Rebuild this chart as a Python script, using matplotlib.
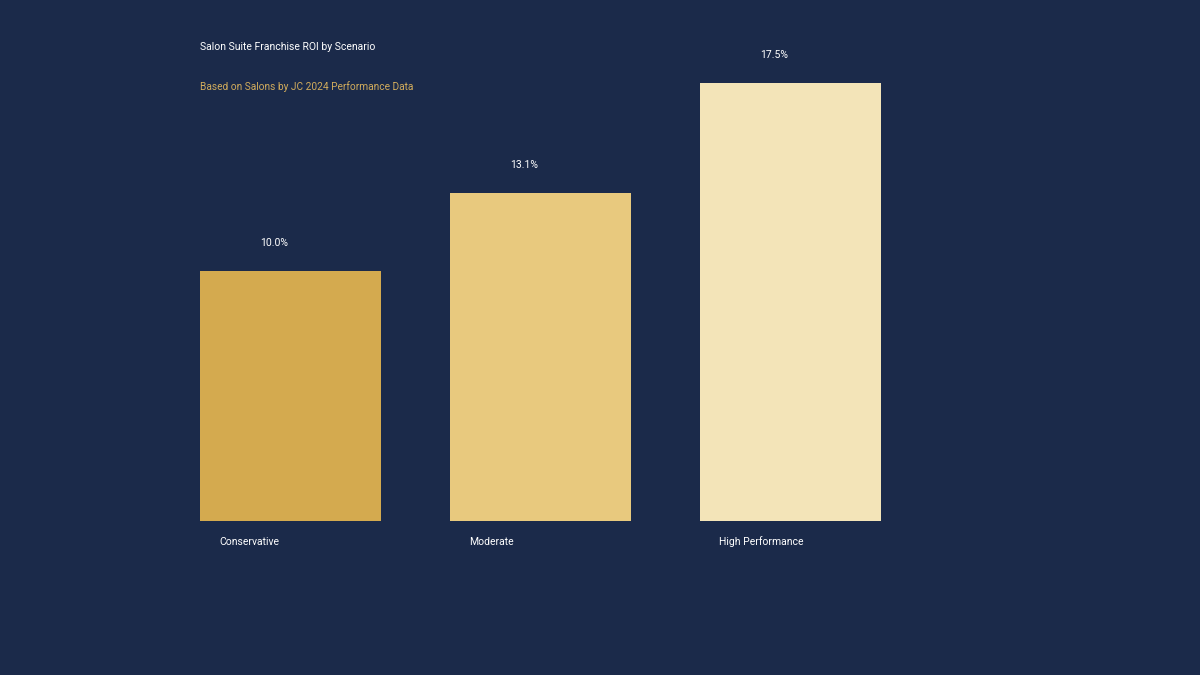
import matplotlib
matplotlib.use("Agg")
import matplotlib.pyplot as plt

# chart data
scenarios = ["Conservative", "Moderate", "High Performance"]
roi = [10.0, 13.1, 17.5]
bar_colors = ["#D4AA4F", "#E8C97E", "#F3E4B8"]

title = "Salon Suite Franchise ROI by Scenario"
subtitle = "Based on Salons by JC 2024 Performance Data"

bg = "#1B2A4A"
plt.rcParams['font.family'] = ['Roboto', 'DejaVu Sans']

fig = plt.figure(figsize=(12, 6.75), dpi=100, facecolor=bg)
# axes placed so bars sit at 200..881 px and baseline at 521 px
ax = fig.add_axes([200/1200, (675-521)/675, 681/1200, 438/675])
ax.set_facecolor(bg)

xs = range(len(scenarios))
ax.bar(xs, roi, width=0.724, align='edge', color=bar_colors, linewidth=0)
ax.set_xlim(0, 2.724)
ax.set_ylim(0, 17.5)

for i, v in enumerate(roi):
    ax.annotate(f"{v:.1f}%", (i + 0.24, v), xytext=(0, 28), textcoords='offset pixels',
                ha='left', va='center', color='white', fontsize=7.5)
    ax.annotate(scenarios[i], (i + 0.08, 0), xytext=(-1, -21), textcoords='offset pixels',
                ha='left', va='center', color='white', fontsize=7.5)

ax.axis('off')

fig.text(200/1200, 1 - 47/675, title, color='white', fontsize=7.5, ha='left', va='center')
fig.text(200/1200, 1 - 87/675, subtitle, color='#D2AC5C', fontsize=7.25, ha='left', va='center')

fig.savefig("out.png", dpi=100, facecolor=bg)
